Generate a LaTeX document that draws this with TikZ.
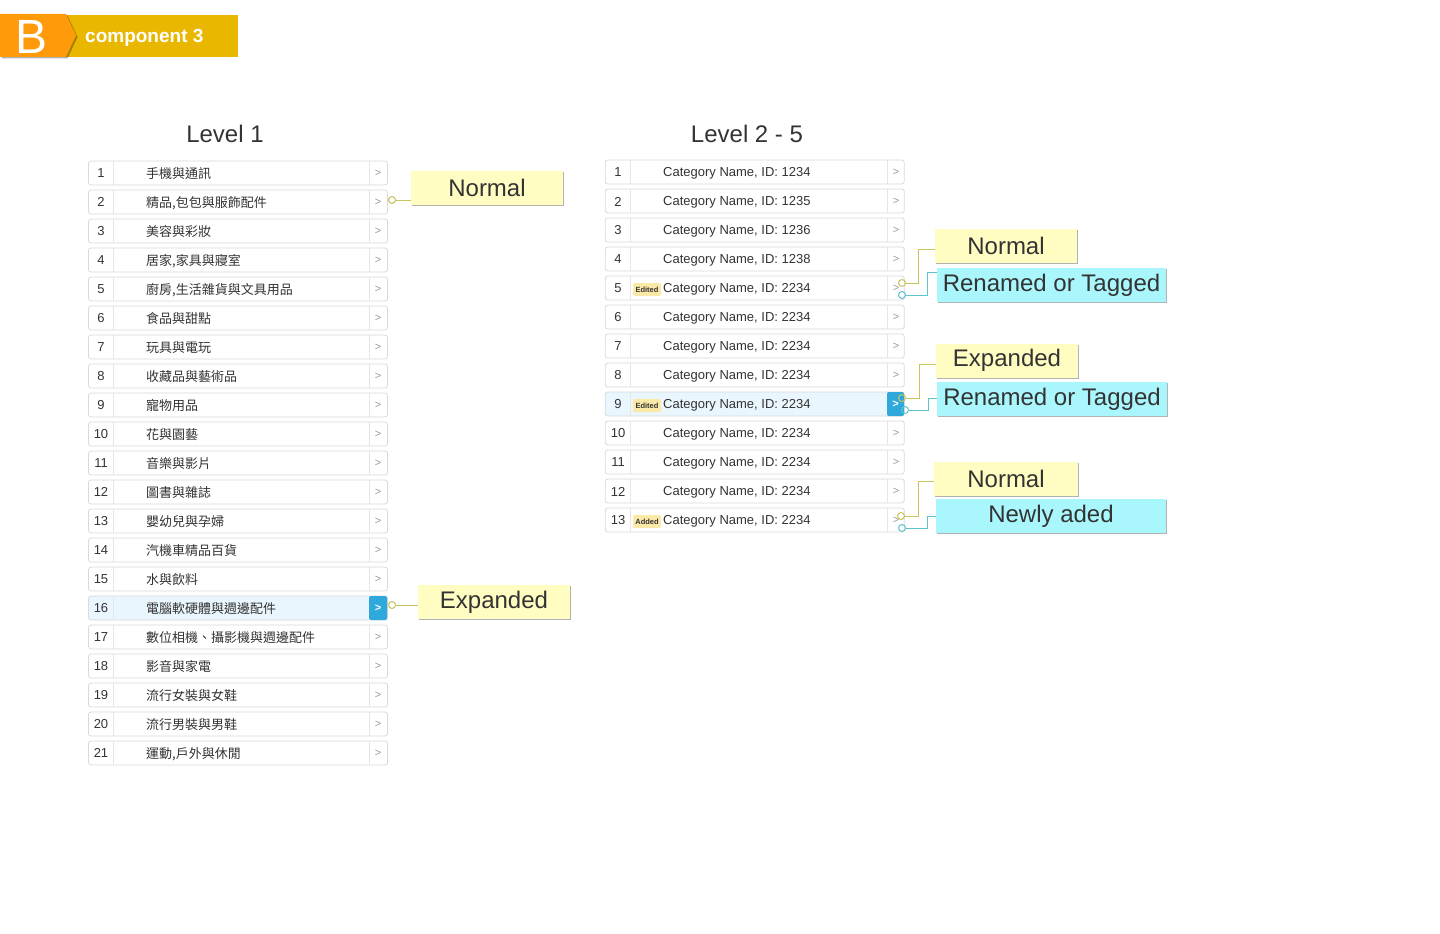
\documentclass[tikz,border=0pt]{standalone}
\usepackage{fontspec}
\setmainfont{Liberation Sans}
\newfontfamily\cjk{Noto Sans CJK TC}
\usetikzlibrary{shadows,calc}
\definecolor{rowline}{HTML}{D9D9D9}
\definecolor{divgray}{HTML}{E6E6E6}
\definecolor{txt}{HTML}{333333}
\definecolor{arrgray}{HTML}{999999}
\definecolor{hilite}{HTML}{EAF6FD}
\definecolor{bluecell}{HTML}{2FA8DC}
\definecolor{cY}{HTML}{FFFDC2}
\definecolor{cC}{HTML}{A9F7FD}
\definecolor{lnY}{HTML}{C8C35A}
\definecolor{lnC}{HTML}{5CC3CF}
\definecolor{tagfill}{HTML}{FBE9A8}
\definecolor{badgeO}{HTML}{FF9B0B}
\definecolor{badgeY}{HTML}{EAB700}
\newcommand\fsz[1]{\fontsize{#1}{#1}\selectfont}
\tikzset{
  rowbox/.style={draw=rowline, line width=0.8pt, rounded corners=2.5pt, minimum width=299pt, minimum height=24pt, inner sep=0pt},
  divline/.style={draw=divgray, line width=0.8pt},
  numtxt/.style={text=txt, font=\fsz{13}, inner sep=0pt},
  nametxt/.style={text=txt, font=\cjk\fsz{13}, anchor=west, inner sep=0pt},
  cattxt/.style={text=txt, font=\fsz{13}, anchor=west, inner sep=0pt},
  arrtxt/.style={text=arrgray, font=\fsz{11}, inner sep=0pt},
  bluearr/.style={fill=bluecell, rounded corners=2pt, minimum height=24pt, inner sep=0pt, text=white, font=\bfseries\fsz{11}},
  tagbox/.style={fill=tagfill, rounded corners=1.5pt, minimum width=28pt, minimum height=13pt, inner sep=0pt, text=txt, font=\bfseries\fsz{7.5}},
  callY/.style={fill=cY, drop shadow={shadow xshift=0.8pt, shadow yshift=-1.3pt, opacity=0.3, fill=black}, text=txt, font=\fsz{24}, inner sep=0pt, minimum height=34pt},
  callC/.style={fill=cC, drop shadow={shadow xshift=0.8pt, shadow yshift=-1.3pt, opacity=0.3, fill=black}, text=txt, font=\fsz{24}, inner sep=0pt, minimum height=34pt},
  dotY/.style={circle, draw=lnY, line width=1pt, minimum size=7pt, inner sep=0pt},
  dotC/.style={circle, draw=lnC, line width=1pt, minimum size=7pt, inner sep=0pt},
  conY/.style={draw=lnY, line width=1pt},
  conC/.style={draw=lnC, line width=1pt},
  title/.style={text=txt, font=\fsz{24}, inner sep=0pt},
}
\newcommand\LRow[3]{%
  \pgfmathsetmacro\yy{173+29*(#1-1)}%
  \node[rowbox, #2] (L#1) at (238,\yy) {};
  \draw[divline] ([xshift=25pt]L#1.north west) -- ([xshift=25pt]L#1.south west);
  \draw[divline] ([xshift=-19pt]L#1.north east) -- ([xshift=-19pt]L#1.south east);
  \node[numtxt] (Ln#1) at (101,\yy) {#1};
  \node[nametxt] (Lt#1) at (146,\yy+0.8) {#3};
  \node[arrtxt] (La#1) at (378,\yy) {>};
}
\newcommand\RRow[3]{%
  \pgfmathsetmacro\yy{172+29*(#1-1)}%
  \node[rowbox, #2] (R#1) at (754.75,\yy) {};
  \draw[divline] ([xshift=25.5pt]R#1.north west) -- ([xshift=25.5pt]R#1.south west);
  \draw[divline] ([xshift=-17pt]R#1.north east) -- ([xshift=-17pt]R#1.south east);
  \node[numtxt] (Rn#1) at (618,\yy+0.5) {#1};
  \node[cattxt] (Rt#1) at (663,\yy+1) {Category Name, ID: #3};
  \node[arrtxt] (Ra#1) at (896,\yy) {>};
}
\begin{document}
\begin{tikzpicture}[x=1pt, y=-1pt]
\fill[white] (0,0) rectangle (1440,934);
\useasboundingbox (0,0) rectangle (1440,934);

% badge
\fill[badgeY] (60,15) rectangle (238,57);
\fill[badgeO, drop shadow={shadow xshift=1.5pt, shadow yshift=-1.5pt, opacity=0.3, fill=black}] (0,14) -- (66,14) -- (76,35.5) -- (66,57) -- (0,57) -- cycle;
\node[text=white, font=\fsz{48}, inner sep=0pt] (badgeB) at (32,37) {B};
\node[text=white, font=\bfseries\fsz{19}, anchor=west, inner sep=0pt] (badgeT) at (85,37.5) {component 3};

% titles
\node[title] (t1) at (225,134) {Level 1};
\node[title] (t2) at (747,134) {Level 2 - 5};

% left list
\LRow{1}{}{\cjk 手機與通訊}
\LRow{2}{}{\cjk 精品,包包與服飾配件}
\LRow{3}{}{\cjk 美容與彩妝}
\LRow{4}{}{\cjk 居家,家具與寢室}
\LRow{5}{}{\cjk 廚房,生活雜貨與文具用品}
\LRow{6}{}{\cjk 食品與甜點}
\LRow{7}{}{\cjk 玩具與電玩}
\LRow{8}{}{\cjk 收藏品與藝術品}
\LRow{9}{}{\cjk 寵物用品}
\LRow{10}{}{\cjk 花與園藝}
\LRow{11}{}{\cjk 音樂與影片}
\LRow{12}{}{\cjk 圖書與雜誌}
\LRow{13}{}{\cjk 嬰幼兒與孕婦}
\LRow{14}{}{\cjk 汽機車精品百貨}
\LRow{15}{}{\cjk 水與飲料}
\LRow{16}{fill=hilite}{\cjk 電腦軟硬體與週邊配件}
\LRow{17}{}{\cjk 數位相機、攝影機與週邊配件}
\LRow{18}{}{\cjk 影音與家電}
\LRow{19}{}{\cjk 流行女裝與女鞋}
\LRow{20}{}{\cjk 流行男裝與男鞋}
\LRow{21}{}{\cjk 運動,戶外與休閒}
\node[bluearr, minimum width=18pt] (Lb16) at (378,608) {>};

% right list
\RRow{1}{}{1234}
\RRow{2}{}{1235}
\RRow{3}{}{1236}
\RRow{4}{}{1238}
\RRow{5}{}{2234}
\RRow{6}{}{2234}
\RRow{7}{}{2234}
\RRow{8}{}{2234}
\RRow{9}{fill=hilite}{2234}
\RRow{10}{}{2234}
\RRow{11}{}{2234}
\RRow{12}{}{2234}
\RRow{13}{}{2234}
\node[bluearr, minimum width=17pt] (Rb9) at (895.5,404) {>};
\node[tagbox] (Rg5) at (647,289.5) {Edited};
\node[tagbox] (Rg9) at (647,405.5) {Edited};
\node[tagbox] (Rg13) at (647,521.5) {Added};

% left callouts
\node[callY, minimum width=152pt] (nL1) at (487,187.5) {Normal};
\node[callY, minimum width=152pt] (nL2) at (494,602) {Expanded};
\node[dotY] (gL1) at (392,200) {};
\node[dotY] (gL2) at (392,605) {};
\draw[conY] (gL1.east) -- (gL1.east -| nL1.west);
\draw[conY] (gL2.east) -- (gL2.east -| nL2.west);

% right callouts group 1
\node[callY, minimum width=142pt] (nN1) at (1006,246) {Normal};
\node[callC, minimum width=229pt] (nR1) at (1051.5,285) {Renamed or Tagged};
\node[dotY] (gY1) at (902,283) {};
\node[dotC] (gC1) at (902,295) {};
\draw[conY] (gY1.east) -- ++(12.5,0) |- ([yshift=-3pt]nN1.west);
\draw[conC] (gC1.east) -- ++(21.5,0) |- ([yshift=13pt]nR1.west);

% group 2
\node[callY, minimum width=142pt] (nE2) at (1007,360.7) {Expanded};
\node[callC, minimum width=230pt] (nR2) at (1052,399) {Renamed or Tagged};
\node[dotY] (gY2) at (902,398) {};
\node[dotC] (gC2) at (905,410) {};
\draw[conY] (gY2.east) -- ++(13.5,0) |- ([yshift=-3.3pt]nE2.west);
\draw[conC] (gC2.east) -- ++(19.5,0) |- ([yshift=1pt]nR2.west);

% group 3
\node[callY, minimum width=144pt] (nN3) at (1006,479) {Normal};
\node[callC, minimum width=230pt] (nA3) at (1051,516) {Newly aded};
\node[dotY] (gY3) at (901,516) {};
\node[dotC] (gC3) at (902,528) {};
\draw[conY] (gY3.east) -- ++(13.5,0) |- ([yshift=-2pt]nN3.west);
\draw[conC] (gC3.east) -- ++(21.5,0) |- (nA3.west);
\end{tikzpicture}
\end{document}
